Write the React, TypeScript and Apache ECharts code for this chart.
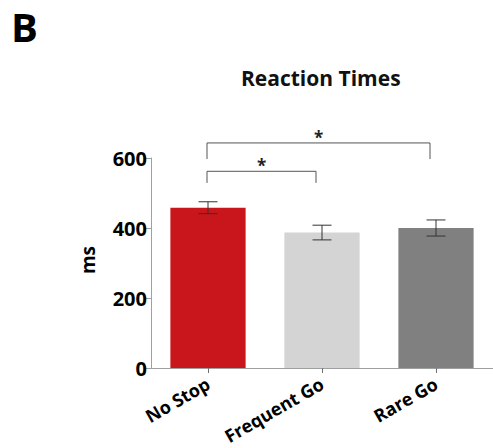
import React, { useEffect, useRef } from "react";
import * as echarts from "echarts";

const categories = ["No Stop", "Frequent Go", "Rare Go"];
const means = [458, 387, 400];
const errors = [17, 21, 23];
const barColors = ["#C8161C", "#D4D4D4", "#808080"];
const yTicks = [0, 200, 400, 600];
// [fromIndex, toIndex, bracketY, legBottomY]
const brackets = [
  [0, 1, 562, 529],
  [0, 2, 643, 597],
];
const sigLabels = ["*", "*"];

const FONT = "'Open Sans', 'Noto Sans', sans-serif";

export default function App() {
  const ref = useRef<HTMLDivElement>(null);
  useEffect(() => {
    if (!ref.current) return;
    const chart = echarts.init(ref.current, undefined, { renderer: "svg" });
    chart.setOption({
      animation: false,
      backgroundColor: "#ffffff",
      title: {
        text: "Reaction Times",
        left: 236,
        top: 62,
        textStyle: { fontFamily: FONT, fontWeight: "bold", fontSize: 21, color: "#111" },
      },
      graphic: [
        {
          type: "text",
          left: 11,
          top: 6,
          style: { text: "B", fontFamily: FONT, fontWeight: "bold", fontSize: 40, fill: "#000" },
        },
        {
          type: "text",
          x: 88,
          y: 260,
          rotation: Math.PI / 2,
          style: {
            text: "ms",
            fontFamily: FONT,
            fontWeight: "bold",
            fontSize: 19,
            fill: "#000",
            align: "center",
            verticalAlign: "middle",
          },
        },
      ],
      grid: { left: 151, right: -5, top: 158, bottom: 80 },
      xAxis: {
        type: "category",
        data: categories,
        axisLine: { lineStyle: { color: "#a0a0a0", width: 1 } },
        axisTick: { show: true, alignWithLabel: true, length: 5, lineStyle: { color: "#707070" } },
        axisLabel: {
          rotate: 30,
          margin: 14,
          fontFamily: FONT,
          fontWeight: "bold",
          fontSize: 18,
          color: "#000",
        },
      },
      yAxis: {
        type: "value",
        min: 0,
        max: 600,
        interval: 200,
        splitLine: { show: false },
        axisLine: { show: true, lineStyle: { color: "#a0a0a0", width: 1 } },
        axisTick: { show: true, length: 5, lineStyle: { color: "#a0a0a0" } },
        axisLabel: {
          margin: 4,
          fontFamily: FONT,
          fontWeight: "bold",
          fontSize: 20,
          color: "#000",
          formatter: (v: number) => (yTicks.includes(v) ? String(v) : ""),
        },
      },
      series: [
        {
          type: "bar",
          barWidth: "66%",
          data: means.map((v, i) => ({ value: v, itemStyle: { color: barColors[i] } })),
        },
        {
          type: "custom",
          z: 10,
          data: means.map((m, i) => [i, m - errors[i], m + errors[i]]),
          renderItem: (params: any, api: any) => {
            const x = api.value(0);
            const lo = api.coord([x, api.value(1)]);
            const hi = api.coord([x, api.value(2)]);
            const half = 9.5;
            const style = { stroke: "#333", lineWidth: 1 };
            return {
              type: "group",
              children: [
                { type: "line", shape: { x1: lo[0], y1: lo[1], x2: hi[0], y2: hi[1] }, style },
                { type: "line", shape: { x1: hi[0] - half, y1: hi[1], x2: hi[0] + half, y2: hi[1] }, style },
                { type: "line", shape: { x1: lo[0] - half, y1: lo[1], x2: lo[0] + half, y2: lo[1] }, style },
              ],
            };
          },
        },
        {
          type: "custom",
          z: 10,
          clip: false,
          data: brackets,
          renderItem: (params: any, api: any) => {
            const a = api.coord([api.value(0), api.value(2)]);
            const b = api.coord([api.value(1), api.value(2)]);
            const leg = api.coord([api.value(0), api.value(3)]);
            const x1 = a[0] - 1;
            const x2 = b[0] - 6;
            const y = a[1];
            const yl = leg[1];
            const style = { stroke: "#555", lineWidth: 1 };
            return {
              type: "group",
              children: [
                { type: "polyline", shape: { points: [[x1, yl], [x1, y], [x2, y], [x2, yl]] }, style: { ...style, fill: "none" } },
                {
                  type: "text",
                  x: (x1 + x2) / 2,
                  y: y - 14,
                  style: {
                    text: sigLabels[params.dataIndex],
                    fontFamily: FONT,
                    fontWeight: "bold",
                    fontSize: 17,
                    fill: "#222",
                    align: "center",
                    verticalAlign: "top",
                  },
                },
              ],
            };
          },
        },
      ],
    });
    return () => chart.dispose();
  }, []);
  return <div ref={ref} style={{ width: 493, height: 448, position: "absolute", left: 0, top: 0 }} />;
}
